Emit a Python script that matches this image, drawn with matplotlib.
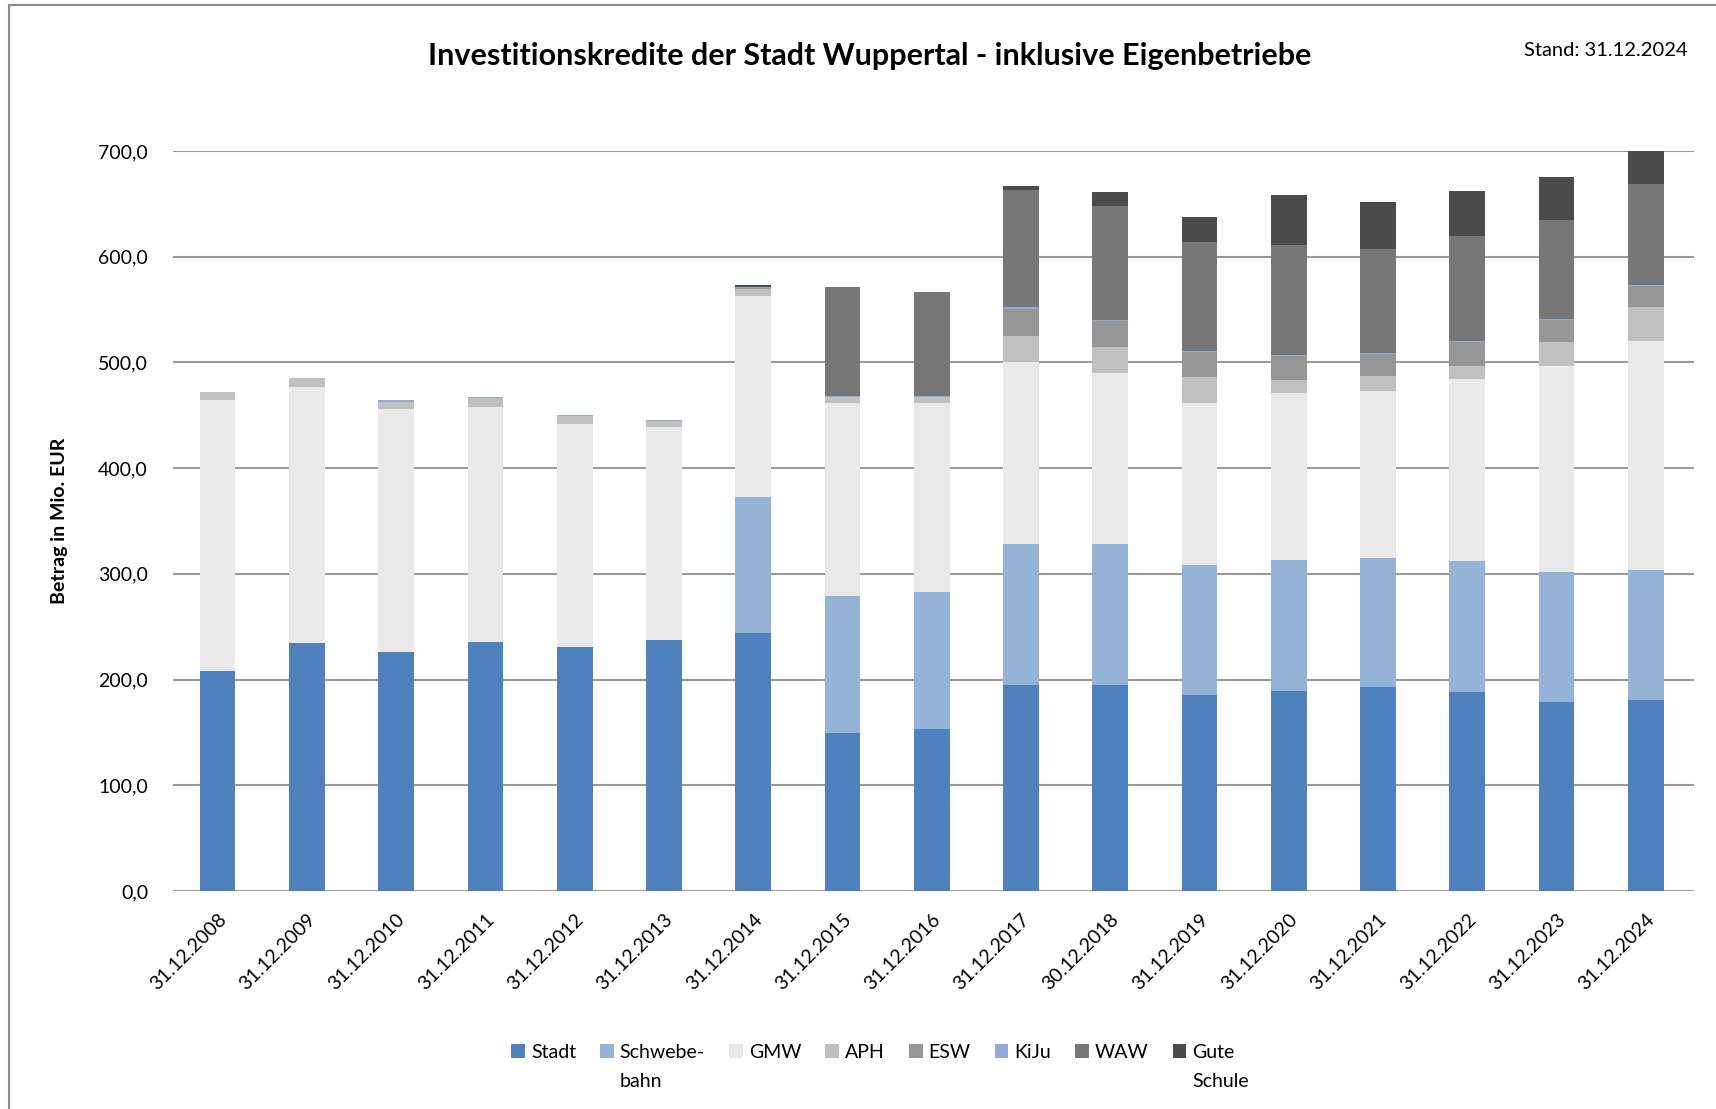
import numpy as np
import matplotlib.pyplot as plt
from matplotlib.lines import Line2D

plt.rcParams['font.family'] = ['Lato', 'DejaVu Sans']

# Stichtage
dates = ['31.12.2008', '31.12.2009', '31.12.2010', '31.12.2011', '31.12.2012',
         '31.12.2013', '31.12.2014', '31.12.2015', '31.12.2016', '31.12.2017',
         '30.12.2018', '31.12.2019', '31.12.2020', '31.12.2021', '31.12.2022',
         '31.12.2023', '31.12.2024']

# Beträge in Mio. EUR
stadt = [208, 235, 226, 236, 231, 237, 244, 149, 153, 195, 195, 185, 189, 193, 188, 179, 181]
schwebebahn = [0, 0, 0, 0, 0, 0, 129, 130, 130, 133, 133, 123, 124, 122, 124, 123, 123]
gmw = [256, 242, 230, 222, 211, 202, 190, 183, 179, 172, 162, 154, 158, 158, 172, 195, 216]
aph = [8, 8, 7, 8, 7, 6, 6, 5, 5, 25, 25, 24, 12, 14, 13, 22, 32]
esw = [0, 0, 0, 0, 0, 0, 1, 0, 0, 26, 24, 24, 23, 21, 22, 21, 20]
kiju = [0, 0, 1, 1, 1, 1, 1, 1, 1, 1, 1, 1, 1, 1, 1, 1, 1]
waw = [0, 0, 0, 0, 0, 0, 0, 103, 99, 111, 108, 103, 104, 98, 100, 94, 96]
gute_schule = [0, 0, 0, 0, 0, 0, 2, 0, 0, 4, 13, 24, 47, 45, 42, 40, 34]

series = [stadt, schwebebahn, gmw, aph, esw, kiju, waw, gute_schule]
labels = ['Stadt', 'Schwebe-\nbahn', 'GMW', 'APH', 'ESW', 'KiJu', 'WAW', 'Gute\nSchule']
colors = ['#4F81BD', '#95B3D7', '#E9E9E9', '#C0C0C0', '#969696', '#95ABD7', '#777777', '#4B4B4B']

fig = plt.figure(figsize=(17.16, 11.09), dpi=100)
ax = fig.add_axes([173 / 1716, 1 - 891 / 1109, (1694 - 173) / 1716, (891 - 151) / 1109])

x = np.arange(len(dates))
bottom = np.zeros(len(dates))
handles = []
for vals, lab, col in zip(series, labels, colors):
    vals = np.array(vals, dtype=float)
    b = ax.bar(x, vals, 0.4, bottom=bottom, color=col, zorder=3)
    handles.append(b)
    bottom += vals

ax.set_ylim(0, 700)
ax.set_xlim(-0.5, len(dates) - 0.46)
ax.set_yticks(np.arange(0, 701, 100))
ax.set_yticklabels([f'{v:.1f}'.replace('.', ',') for v in np.arange(0, 701, 100)],
                   fontsize=14)
ax.yaxis.grid(True, color='#9A9A9A', linewidth=1.5, zorder=0)
ax.set_axisbelow(True)
for s in ax.spines.values():
    s.set_visible(False)
ax.tick_params(axis='both', length=0)
ax.tick_params(axis='y', pad=18)
ax.set_xticks(x)
ax.set_xticklabels(dates, rotation=45, ha='right', rotation_mode='anchor', fontsize=14)
ax.tick_params(axis='x', pad=14)
ax.set_ylabel('Betrag in Mio. EUR', fontsize=14, fontweight='bold', labelpad=22)

fig.text(870 / 1716, 1 - 56 / 1109,
         'Investitionskredite der Stadt Wuppertal - inklusive Eigenbetriebe',
         ha='center', va='center', fontsize=22, fontweight='bold')
fig.text(1688 / 1716, 1 - 51 / 1109, 'Stand: 31.12.2024', ha='right', va='center',
         fontsize=14.5)

# Legende: erste Zeile im Legendenobjekt, zweite Zeile darunter
first = [l.split('\n')[0] for l in labels]
leg = fig.legend(handles=handles, labels=first, loc='center',
                 bbox_to_anchor=(873 / 1716, 1 - 1052 / 1109),
                 ncol=8, frameon=False, fontsize=14, handlelength=0.7, handleheight=0.7,
                 handletextpad=0.3, columnspacing=1.25)
fig.canvas.draw()
inv = fig.transFigure.inverted()
for t, l in zip(leg.get_texts(), labels):
    if '\n' in l:
        bb = t.get_window_extent()
        x0, y0 = inv.transform((bb.x0, bb.y0))
        fig.text(x0, y0 - 0.011, l.split('\n')[1], ha='left', va='top', fontsize=14)

# Rahmen um das Diagramm (links und oben)
fig.add_artist(Line2D([9 / 1716, 9 / 1716], [0, 1 - 5 / 1109], transform=fig.transFigure,
                      color='#8C8C8C', linewidth=1.5))
fig.add_artist(Line2D([9 / 1716, 1], [1 - 5 / 1109, 1 - 5 / 1109], transform=fig.transFigure,
                      color='#8C8C8C', linewidth=1.5))

plt.savefig('out.png', dpi=100)
